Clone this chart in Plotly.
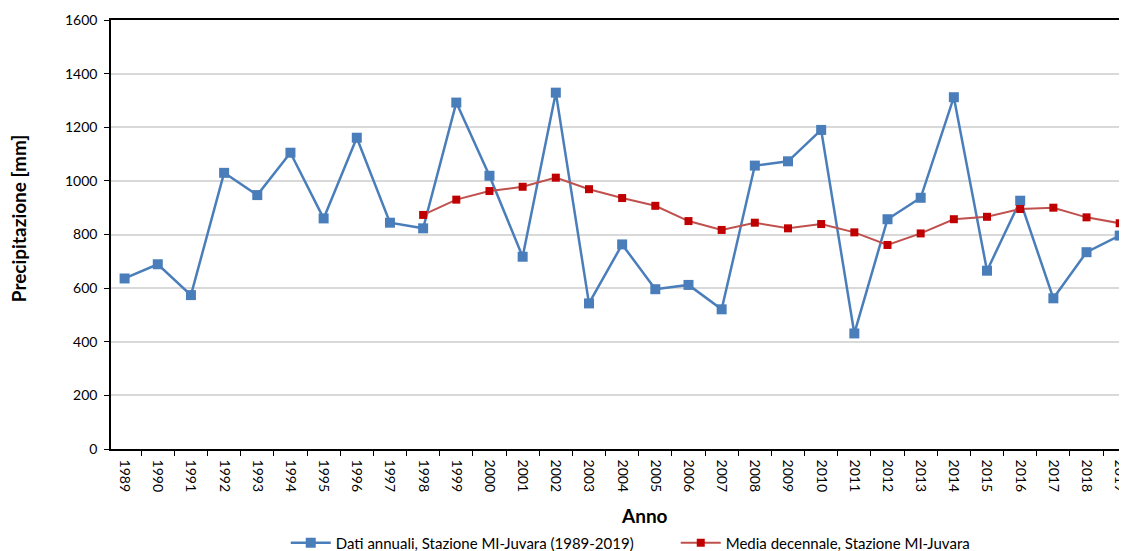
import plotly.graph_objects as go

years = [str(y) for y in range(1989, 2020)]
annual = [636, 689, 574, 1030, 947, 1105, 860, 1161, 844, 823, 1292, 1019, 717, 1329,
          543, 763, 596, 612, 521, 1057, 1073, 1190, 431, 857, 937, 1312, 665, 926,
          562, 734, 796]
decadal_years = [str(y) for y in range(1998, 2020)]
decadal = [873, 930, 962, 978, 1012, 969, 936, 907, 850, 817, 844, 823, 839, 808,
           761, 804, 857, 866, 895, 900, 864, 842]
y_ticks = [0, 200, 400, 600, 800, 1000, 1200, 1400, 1600]

FONT = "Lato"

fig = go.Figure()
fig.add_trace(go.Scatter(
    x=years, y=annual, mode="lines+markers",
    name="Dati annuali, Stazione MI-Juvara (1989-2019)",
    line=dict(color="#4a7ebb", width=2.5),
    marker=dict(symbol="square", size=10, color="#4a7ebb"),
))
fig.add_trace(go.Scatter(
    x=decadal_years, y=decadal, mode="lines+markers",
    name="Media decennale, Stazione MI-Juvara",
    line=dict(color="#c0504d", width=2),
    marker=dict(symbol="square", size=8, color="#c00000"),
))

# page has an 8px body margin: figure offset by 8px, sized to fill the window
fig.update_layout(
    width=1119, height=543,
    margin=dict(l=103, r=0, t=12, b=102, autoexpand=False),
    paper_bgcolor="white", plot_bgcolor="white",
    font=dict(family=FONT, size=14, color="black"),
    showlegend=True,
    legend=dict(orientation="h", x=0.172, xanchor="left", y=-0.219, yanchor="middle",
                font=dict(family=FONT, size=15, color="black"),
                entrywidth=335, entrywidthmode="pixels",
                itemwidth=40, tracegroupgap=0),
    annotations=[
        dict(text="<b>Anno</b>", x=0.525, y=-0.155, xref="paper", yref="paper",
             xanchor="center", yanchor="middle", showarrow=False,
             font=dict(family=FONT, size=19, color="black")),
        dict(text="<b>Precipitazione [mm]</b>", x=-0.0915, y=0.538, xref="paper", yref="paper",
             xanchor="center", yanchor="middle", showarrow=False, textangle=-90,
             font=dict(family=FONT, size=19, color="black")),
    ],
)
fig.update_xaxes(
    type="category", categoryorder="array", categoryarray=years,
    range=[-0.41, 30.22], tickson="boundaries", automargin=False,
    ticklabeloverflow="allow",
    ticks="outside", ticklen=5, tickcolor="black", tickwidth=1,
    ticklabelstandoff=6,
    tickangle=90, tickfont=dict(family=FONT, size=14, color="black"),
    showline=True, linecolor="black", linewidth=1.5, mirror=True,
    showgrid=False, zeroline=False,
)
fig.update_yaxes(
    range=[0, 1600], tickvals=y_ticks, automargin=False,
    ticks="outside", ticklen=5, tickcolor="black", tickwidth=1,
    ticklabelstandoff=4,
    tickfont=dict(family=FONT, size=14, color="black"),
    showline=True, linecolor="black", linewidth=1.5,
    showgrid=True, gridcolor="#d9d9d9", gridwidth=1.5, zeroline=False,
)

fig.write_html("out.html")
